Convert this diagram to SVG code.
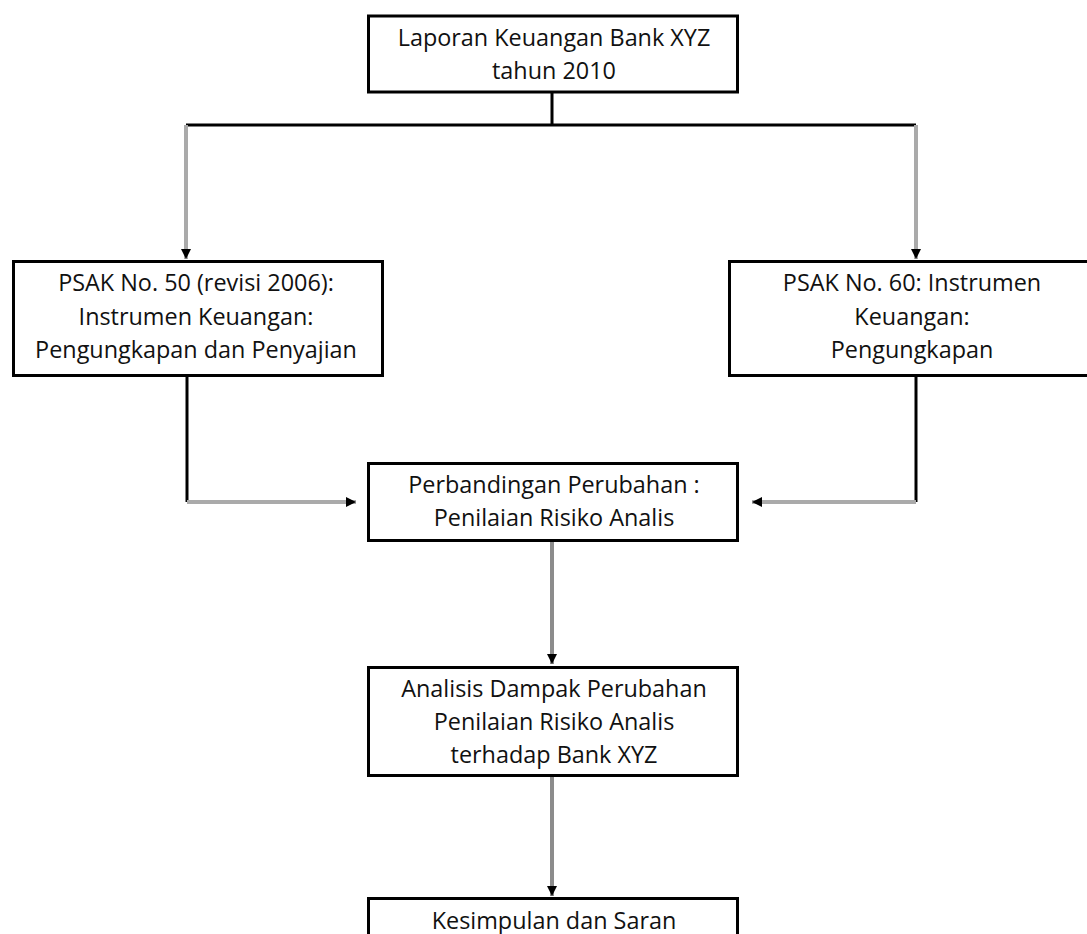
<svg xmlns="http://www.w3.org/2000/svg" width="1087" height="934" viewBox="0 0 1087 934">
<style>
.box{fill:#fff;stroke:#000;stroke-width:3}
.t{font-family:"Open Sans","Liberation Sans",sans-serif;font-size:23.4px;fill:#111;text-anchor:middle}
.k{fill:none;stroke:#000;stroke-width:3}
.g{fill:none;stroke:#aaaaaa;stroke-width:4}
.m{fill:none;stroke:#8c8c8c;stroke-width:4}
</style>
<defs>
<marker id="ah" viewBox="0 0 10 10" refX="10" refY="5" markerWidth="10" markerHeight="10" markerUnits="userSpaceOnUse" orient="auto">
<path d="M0,0 L10,5 L0,10 z" fill="#000"/>
</marker>
</defs>
<rect width="1087" height="934" fill="#fff"/>
<g id="connectors">
<path class="k" d="M552 93 V125 M186 125 H916"/>
<path class="g" d="M186 125 V259" marker-end="url(#ah)"/>
<path class="g" d="M916 125 V259" marker-end="url(#ah)"/>
<path class="k" d="M187 377 V502"/>
<path class="g" d="M187 502 H356" marker-end="url(#ah)"/>
<path class="k" d="M916 377 V502"/>
<path class="g" d="M916 502 H752" marker-end="url(#ah)"/>
<path class="m" d="M552 542 V664" marker-end="url(#ah)"/>
<path class="m" d="M552 777 V896" marker-end="url(#ah)"/>
</g>
<g id="n1">
<rect class="box" x="368.5" y="16" width="369" height="76"/>
<text class="t" x="554" y="46">Laporan Keuangan Bank XYZ</text>
<text class="t" x="554" y="79">tahun 2010</text>
</g>
<g id="n2">
<rect class="box" x="13.5" y="261.5" width="369" height="114"/>
<text class="t" x="196" y="291">PSAK No. 50 (revisi 2006):</text>
<text class="t" x="196" y="325">Instrumen Keuangan:</text>
<text class="t" x="196" y="358">Pengungkapan dan Penyajian</text>
</g>
<g id="n3">
<rect class="box" x="729.5" y="261.5" width="369" height="114"/>
<text class="t" x="912" y="291">PSAK No. 60: Instrumen</text>
<text class="t" x="912" y="325">Keuangan:</text>
<text class="t" x="912" y="358">Pengungkapan</text>
</g>
<g id="n4">
<rect class="box" x="368.5" y="463.5" width="369" height="77"/>
<text class="t" x="554" y="493">Perbandingan Perubahan :</text>
<text class="t" x="554" y="526">Penilaian Risiko Analis</text>
</g>
<g id="n5">
<rect class="box" x="368.5" y="667.5" width="369" height="108"/>
<text class="t" x="554" y="697">Analisis Dampak Perubahan</text>
<text class="t" x="554" y="730">Penilaian Risiko Analis</text>
<text class="t" x="554" y="763">terhadap Bank XYZ</text>
</g>
<g id="n6">
<rect class="box" x="368.5" y="898.5" width="369" height="100"/>
<text class="t" x="554" y="929">Kesimpulan dan Saran</text>
</g>
</svg>
